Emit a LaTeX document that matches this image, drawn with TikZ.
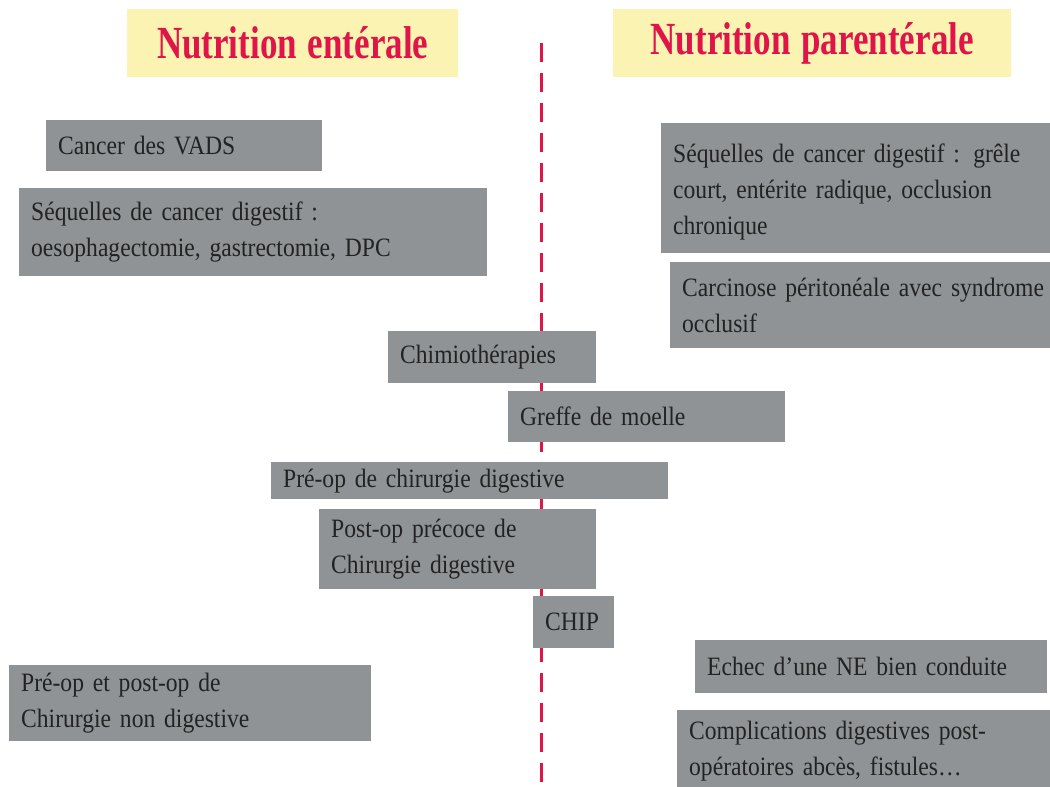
\documentclass[tikz,border=0pt]{standalone}
\usepackage{fontspec}
\setmainfont{Liberation Serif}
\newfontfamily\bodyfont[FakeStretch=0.89]{Liberation Serif}
\newfontfamily\headfont[FakeStretch=0.76]{Liberation Serif}
\newcommand\panelfont{\bodyfont\fontsize{26.5}{36}\selectfont
  \fontdimen2\font=0.17em\fontdimen3\font=0.03em\fontdimen4\font=0.02em
  \hyphenpenalty=10000\relax}
\newcommand\headingfont{\headfont\bfseries\fontsize{46}{48}\selectfont\fontdimen2\font=0.24em\relax}
\definecolor{boxgray}{RGB}{143,147,150}
\definecolor{inkgray}{RGB}{34,34,34}
\definecolor{headyellow}{RGB}{251,243,178}
\definecolor{headred}{RGB}{224,20,72}
\tikzset{
  panel/.style={fill=boxgray, draw=none, anchor=north west, inner xsep=12pt, inner ysep=0pt,
    text=inkgray, align=left, font=\panelfont},
  headbox/.style={fill=headyellow, draw=none, anchor=north west, inner sep=0pt,
    text=headred, font=\headingfont},
  divider/.style={draw=headred, line width=3.5pt, dash pattern=on 19pt off 11pt}
}
\begin{document}
\begin{tikzpicture}[x=1pt,y=-1pt]
\useasboundingbox (0,0) rectangle (1050,787);
\clip (0,0) rectangle (1050,787);
\fill[white] (0,0) rectangle (1050,787);

% vertical divider between the two columns
\coordinate (divtop) at (541.5,43);
\coordinate (divbot) at (541.5,800);
\draw[divider] (divtop) -- (divbot);

% column headings
\node[headbox, minimum width=331pt, minimum height=68pt] (hEN) at (127,9) {Nutrition entérale};
\node[headbox, minimum width=398pt, minimum height=68pt] (hPN) at (613,9) {Nutrition parentérale};

% enteral side
\node[panel, minimum width=276pt, minimum height=51pt, text width=252pt] (vads) at (46,120) {Cancer des VADS};
\node[panel, minimum width=468pt, minimum height=88pt, text width=444pt] (seqL) at (19,188)
  {Séquelles de cancer digestif :\\oesophagectomie, gastrectomie, DPC};
\node[panel, minimum width=362pt, minimum height=76pt, text width=338pt] (prepost) at (9,665)
  {Pré-op et post-op de\\Chirurgie non digestive};

% parenteral side
\node[panel, minimum width=400pt, minimum height=130pt, text width=376pt] (seqR) at (661,123)
  {\rule{0pt}{26pt}Séquelles de cancer digestif : grêle\\court, entérite radique, occlusion\\chronique};
\node[panel, minimum width=400pt, minimum height=86pt, text width=376pt] (carc) at (670,262)
  {Carcinose péritonéale avec syndrome\\occlusif};
\node[panel, minimum width=352pt, minimum height=53pt, text width=328pt] (echec) at (695,640)
  {Echec d’une NE bien conduite};
\node[panel, minimum width=390pt, minimum height=82pt, text width=366pt] (compl) at (677,710)
  {Complications digestives post-\\opératoires abcès, fistules…};

% indications straddling the divider
\node[panel, minimum width=208pt, minimum height=52pt, text width=184pt] (chimio) at (388,331) {Chimiothérapies};
\node[panel, minimum width=277pt, minimum height=51pt, text width=253pt] (greffe) at (508,391) {Greffe de moelle};
\node[panel, minimum width=397pt, minimum height=37pt, text width=373pt] (preop) at (271,462) {Pré-op de chirurgie digestive};
\node[panel, minimum width=277pt, minimum height=80pt, text width=253pt] (postop) at (319,509)
  {Post-op précoce de\\Chirurgie digestive};
\node[panel, minimum width=81pt, minimum height=52pt, text width=57pt] (chip) at (533,596) {CHIP};
\end{tikzpicture}
\end{document}
